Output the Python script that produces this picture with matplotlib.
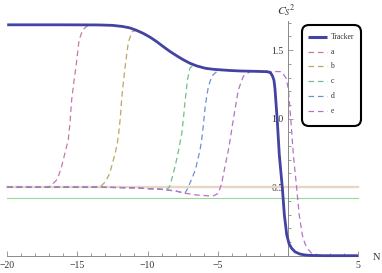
import numpy as np
import matplotlib
matplotlib.use("Agg")
import matplotlib.pyplot as plt
from matplotlib.patches import FancyBboxPatch
from matplotlib.lines import Line2D
from matplotlib.transforms import IdentityTransform
from matplotlib.ticker import FixedLocator, FixedFormatter

plt.rcParams['font.family'] = ['Liberation Serif', 'DejaVu Serif']
plt.rcParams['mathtext.fontset'] = 'stix'

# ---------------- data ----------------
tracker_x = [-20, -16, -13.5, -12.5, -11.8, -11.25, -10.8, -10.3, -9.8, -9.35, -8.9, -8.4,
             -7.9, -7.46, -7.0, -6.5, -5.9, -5.3, -4.2,
             -3.4, -2.5, -1.5, -1.25, -1.1, -1.0, -0.93, -0.76, -0.62, -0.40, -0.26,
             -0.09, 0.08, 0.26, 0.5, 0.85, 1.2, 1.57, 2.5, 5]
tracker_y = [1.685, 1.685, 1.684, 1.681, 1.673, 1.662, 1.645, 1.622, 1.593, 1.562, 1.527, 1.49,
             1.457, 1.43, 1.405, 1.385, 1.368, 1.36, 1.352,
             1.348, 1.346, 1.343, 1.336, 1.31, 1.28, 1.22, 0.978, 0.735, 0.49, 0.297,
             0.151, 0.085, 0.054, 0.028, 0.012, 0.005, 0.002, 0.0, 0.0]

base_x = [-20, -13.4, -11, -9.1, -8.0, -7.3, -6.5, -5.6, -5.0]
base_y = [0.5, 0.5, 0.495, 0.485, 0.472, 0.455, 0.443, 0.436, 0.44]

a_x = [-17.2, -17.0, -16.72, -16.5, -16.36, -16.13, -15.89, -15.65, -15.52, -15.41,
       -15.25, -15.1, -14.88, -14.62, -14.3, -13.9]
a_y = [0.5, 0.505, 0.528, 0.55, 0.577, 0.65, 0.747, 0.845, 0.98, 1.137,
       1.27, 1.38, 1.575, 1.647, 1.677, 1.683]

b_x = [-13.5, -13.3, -13.0, -12.7, -12.5, -12.3, -12.16, -12.05, -11.95, -11.85,
       -11.72, -11.6, -11.37, -11.1, -10.8]
b_y = [0.5, 0.51, 0.54, 0.6, 0.675, 0.75, 0.82, 0.9, 1.0, 1.14,
       1.27, 1.38, 1.56, 1.635, 1.645]

c_x = [-8.6, -8.45, -8.3, -8.05, -7.85, -7.7, -7.57, -7.45, -7.34, -7.15, -6.98, -6.75, -6.5]
c_y = [0.488, 0.5, 0.55, 0.65, 0.74, 0.82, 0.89, 1.0, 1.12, 1.29, 1.37, 1.39, 1.385]

d_x = [-7.34, -7.15, -6.98, -6.6, -6.27, -6.15, -6.02, -5.9, -5.68, -5.43, -5.08, -4.8, -4.2]
d_y = [0.455, 0.49, 0.53, 0.625, 0.77, 0.845, 0.96, 1.09, 1.23, 1.31, 1.343, 1.352, 1.352]

e_x = [-5.3, -4.96, -4.72, -4.49, -4.25, -4.1, -3.95, -3.77, -3.54, -3.18, -2.7, -1.5,
       -0.45, -0.14, 0.02, 0.21, 0.38, 0.62, 0.80, 1.02, 1.2, 1.37, 1.65, 1.92, 2.5, 5]
e_y = [0.437, 0.455, 0.53, 0.65, 0.77, 0.86, 0.96, 1.07, 1.21, 1.31, 1.343, 1.345,
       1.343, 1.295, 1.22, 0.978, 0.735, 0.49, 0.297, 0.151, 0.09, 0.054, 0.02, 0.005, 0.0, 0.0]

ref_tan = 0.5
ref_green = 0.42

labels = ["Tracker", "a", "b", "c", "d", "e"]
colors = ["#4343a3", "#c878a8", "#b8a860", "#70c088", "#6f8fd6", "#b672c6"]

xticks_major = [-20, -15, -10, -5, 5]
xtick_labels = ["\u221220", "\u221215", "\u221210", "\u22125", "5"]
yticks_major = [0.5, 1.0, 1.5]
ytick_labels = ["0.5", "1.0", "1.5"]

# ---------------- figure ----------------
W, H = 382, 273
fig = plt.figure(figsize=(W / 100, H / 100), dpi=100)
ax = fig.add_axes([0.18 / W, 0.2 / H, 379.1 / W, 270.6 / H])
ax.set_xlim(-20.5, 6.5)
ax.set_ylim(-0.125, 1.85)
ax.patch.set_alpha(0)


def tail_after(x0):
    tx = np.array(tracker_x)
    ty = np.array(tracker_y)
    m = tx > x0
    return tx[m], ty[m]


def head_before(x0):
    bx = np.array(base_x)
    by = np.array(base_y)
    m = bx < x0
    return bx[m], by[m]


ax.axhline(ref_tan, xmin=(-20 + 20.5) / 27, xmax=(5 + 20.5) / 27, color="#e6d6c6", lw=1.7, zorder=1)
ax.axhline(ref_green, xmin=(-20 + 20.5) / 27, xmax=(5 + 20.5) / 27, color="#98d898", lw=0.8, zorder=1)

dash = (0, (4.5, 3))
series = [(a_x, a_y), (b_x, b_y), (c_x, c_y), (d_x, d_y), (e_x, e_y)]
for i, (sx, sy) in enumerate(series):
    hx, hy = head_before(sx[0])
    if sx[-1] < 5:
        tx, ty = tail_after(sx[-1])
    else:
        tx, ty = np.array([]), np.array([])
    xx = np.concatenate([hx, sx, tx])
    yy = np.concatenate([hy, sy, ty])
    ax.plot(xx, yy, color=colors[i + 1], lw=0.9, ls=dash, zorder=2 + i * 0.1)

ax.plot(tracker_x, tracker_y, color=colors[0], lw=2.0, zorder=3, solid_capstyle='butt')

# axes in Mathematica style
for s in ["top", "right"]:
    ax.spines[s].set_visible(False)
ax.spines["left"].set_position(("data", 0))
ax.spines["bottom"].set_position(("data", 0))
ax.spines["left"].set_bounds(0, 1.71)
ax.spines["bottom"].set_bounds(-20, 5)
for s in ["left", "bottom"]:
    ax.spines[s].set_color("#8a8a8a")
    ax.spines[s].set_linewidth(0.7)
ax.set_axisbelow(True)

ax.xaxis.set_major_locator(FixedLocator(xticks_major))
ax.xaxis.set_major_formatter(FixedFormatter(xtick_labels))
ax.xaxis.set_minor_locator(FixedLocator(list(range(-20, 6))))
ax.yaxis.set_major_locator(FixedLocator(yticks_major))
ax.yaxis.set_major_formatter(FixedFormatter(ytick_labels))
ax.yaxis.set_minor_locator(FixedLocator([round(0.1 * k, 1) for k in range(1, 18)]))
ax.tick_params(which="both", direction="in", color="#8a8a8a", width=0.6, labelsize=7,
               labelcolor="#333333")
ax.tick_params(which="major", length=3.5)
ax.tick_params(which="minor", length=2)
ax.tick_params(axis="x", pad=3.5)
ax.tick_params(axis="y", pad=3)

# axis labels
fig.text(376.5 / W, 1 - 257 / H, "N", fontsize=7.5, ha="center", va="center", color="#333333")
fig.text(286 / W, 1 - 10 / H, r"$C_S{}^2$", fontsize=8.5, ha="center", va="center", color="#333333")

# legend (rounded box)
T = IdentityTransform()
box = FancyBboxPatch((302, H - 126), 59, 101, boxstyle="round,pad=0,rounding_size=7",
                     transform=T, facecolor="white", edgecolor="black", lw=1.5, zorder=10)
fig.patches.append(box)
rows = [36.7, 51.5, 66.3, 81.1, 95.9, 110.7]
for i, (lab, yv) in enumerate(zip(labels, rows)):
    if i == 0:
        ln = Line2D([308.3, 326.7], [H - yv, H - yv], transform=T, color=colors[0], lw=2.2,
                    solid_capstyle='butt', zorder=11)
    else:
        ln = Line2D([308.3, 326.7], [H - yv, H - yv], transform=T, color=colors[i], lw=0.9,
                    ls=(0, (4.5, 3)), zorder=11)
    fig.lines.append(ln)
    fig.text(330.5, H - yv, lab, transform=T, fontsize=5.5, ha="left", va="center",
             color="#333333", zorder=12)

fig.savefig("out.png", dpi=100)
